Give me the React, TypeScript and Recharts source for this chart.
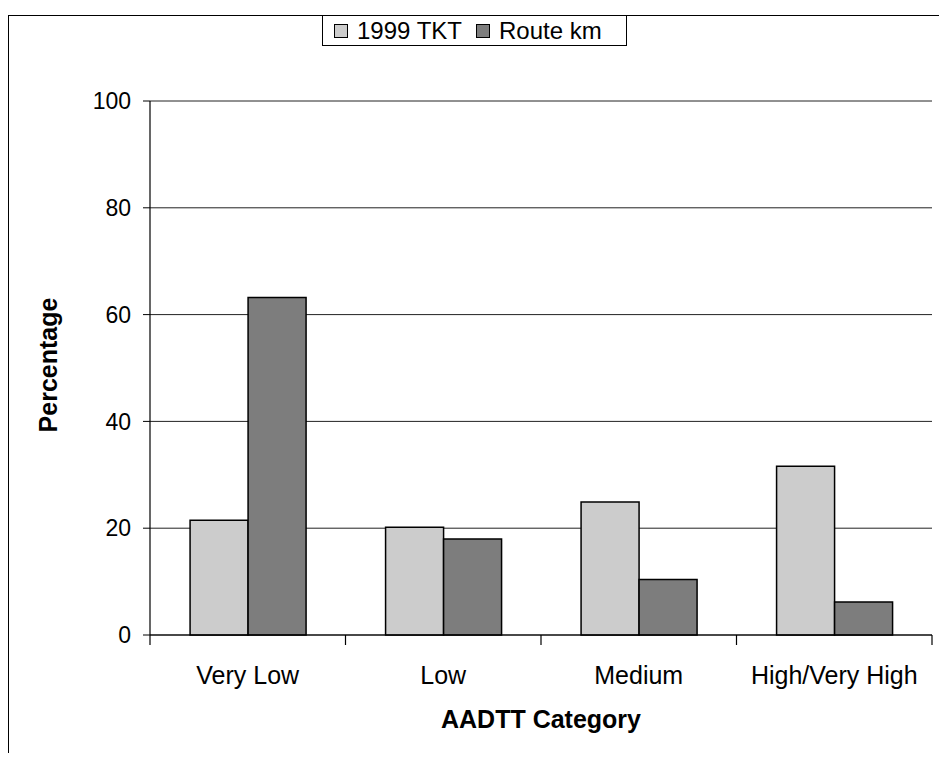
import React from "react";
import { BarChart, Bar, XAxis, YAxis, CartesianGrid, Label } from "recharts";

// AADTT categories and percentages
const categories = ["Very Low", "Low", "Medium", "High/Very High"];
const tkt1999 = [21.5, 20.2, 24.9, 31.6];
const routeKm = [63.2, 18.0, 10.4, 6.2];
const yTicks = [0, 20, 40, 60, 80, 100];

const LIGHT = "#cccccc";
const DARK = "#7d7d7d";
const FONT = "'Liberation Sans', Arial, sans-serif";

const data = categories.map((category, i) => ({
  category,
  tkt: tkt1999[i],
  route: routeKm[i],
}));

// category label plus Excel-style tick marks between categories
const CategoryTick = (props: any) => {
  const { x, y, payload, index } = props;
  const half = payload.offset || 0;
  return (
    <g>
      <line x1={x - half} x2={x - half} y1={y - 8} y2={y + 2} stroke="#000" strokeWidth={1.2} />
      {index === categories.length - 1 && (
        <line x1={x + half} x2={x + half} y1={y - 8} y2={y + 2} stroke="#000" strokeWidth={1.2} />
      )}
      <text x={x} y={y} dy={41} textAnchor="middle" fontSize={25} fill="#000" fontFamily={FONT}>
        {payload.value}
      </text>
    </g>
  );
};

const Swatch = ({ color }: { color: string }) => (
  <span
    style={{
      display: "inline-block",
      width: 12,
      height: 12,
      background: color,
      border: "1px solid #000",
      marginRight: 9,
    }}
  />
);

export default function App() {
  return (
    <div
      style={{
        position: "relative",
        width: 947,
        height: 761,
        margin: -8,
        overflow: "hidden",
        background: "#fff",
        fontFamily: FONT,
      }}
    >
      <div style={{ position: "absolute", left: 0, top: 0 }}>
        <BarChart
          width={947}
          height={761}
          data={data}
          margin={{ top: 101, right: 15, bottom: 0, left: 0 }}
          barCategoryGap="20.5%"
          barGap={0}
        >
          <CartesianGrid vertical={false} stroke="#222" strokeWidth={1} />
          <XAxis
            dataKey="category"
            height={126}
            axisLine={{ stroke: "#000", strokeWidth: 1.2 }}
            tickLine={false}
            interval={0}
            tick={<CategoryTick />}
          >
            <Label
              content={(p: any) => {
                const vb = p.viewBox;
                return (
                  <text
                    x={vb.x + vb.width / 2}
                    y={vb.y + 93}
                    textAnchor="middle"
                    fontSize={25}
                    fontWeight="bold"
                    fill="#000"
                    fontFamily={FONT}
                  >
                    AADTT Category
                  </text>
                );
              }}
            />
          </XAxis>
          <YAxis
            width={150}
            domain={[0, 100]}
            ticks={yTicks}
            interval={0}
            axisLine={{ stroke: "#000", strokeWidth: 1.2 }}
            tickLine={{ stroke: "#000" }}
            tickSize={7}
            tickMargin={12}
            tick={{ fontSize: 23, fill: "#000", fontFamily: FONT }}
          >
            <Label
              content={(p: any) => {
                const vb = p.viewBox;
                const cx = vb.x + 57;
                const cy = vb.y + vb.height / 2 - 3;
                return (
                  <text
                    x={cx}
                    y={cy}
                    textAnchor="middle"
                    transform={`rotate(-90, ${cx}, ${cy})`}
                    fontSize={25}
                    fontWeight="bold"
                    fill="#000"
                    fontFamily={FONT}
                  >
                    Percentage
                  </text>
                );
              }}
            />
          </YAxis>
          <YAxis
            yAxisId="right"
            orientation="right"
            width={0}
            domain={[0, 100]}
            tick={false}
            tickLine={false}
            axisLine={{ stroke: "#000", strokeWidth: 1.2 }}
          />
          <Bar dataKey="tkt" name="1999 TKT" fill={LIGHT} stroke="#000" strokeWidth={1.5} isAnimationActive={false} />
          <Bar dataKey="route" name="Route km" fill={DARK} stroke="#000" strokeWidth={1.5} isAnimationActive={false} />
        </BarChart>
      </div>
      {/* outer chart frame, drawn over the chart surface */}
      <div
        style={{
          position: "absolute",
          left: 8,
          top: 15,
          width: 980,
          height: 743,
          border: "1px solid #000",
          pointerEvents: "none",
        }}
      />
      {/* legend box */}
      <div
        style={{
          position: "absolute",
          left: 322,
          top: 15,
          width: 305,
          height: 31,
          border: "1.5px solid #000",
          background: "#fff",
          display: "flex",
          alignItems: "center",
          paddingLeft: 11,
          boxSizing: "border-box",
          fontSize: 24,
          color: "#000",
          whiteSpace: "nowrap",
        }}
      >
        <Swatch color={LIGHT} />
        <span style={{ marginRight: 14 }}>1999 TKT</span>
        <Swatch color={DARK} />
        <span>Route km</span>
      </div>
    </div>
  );
}
